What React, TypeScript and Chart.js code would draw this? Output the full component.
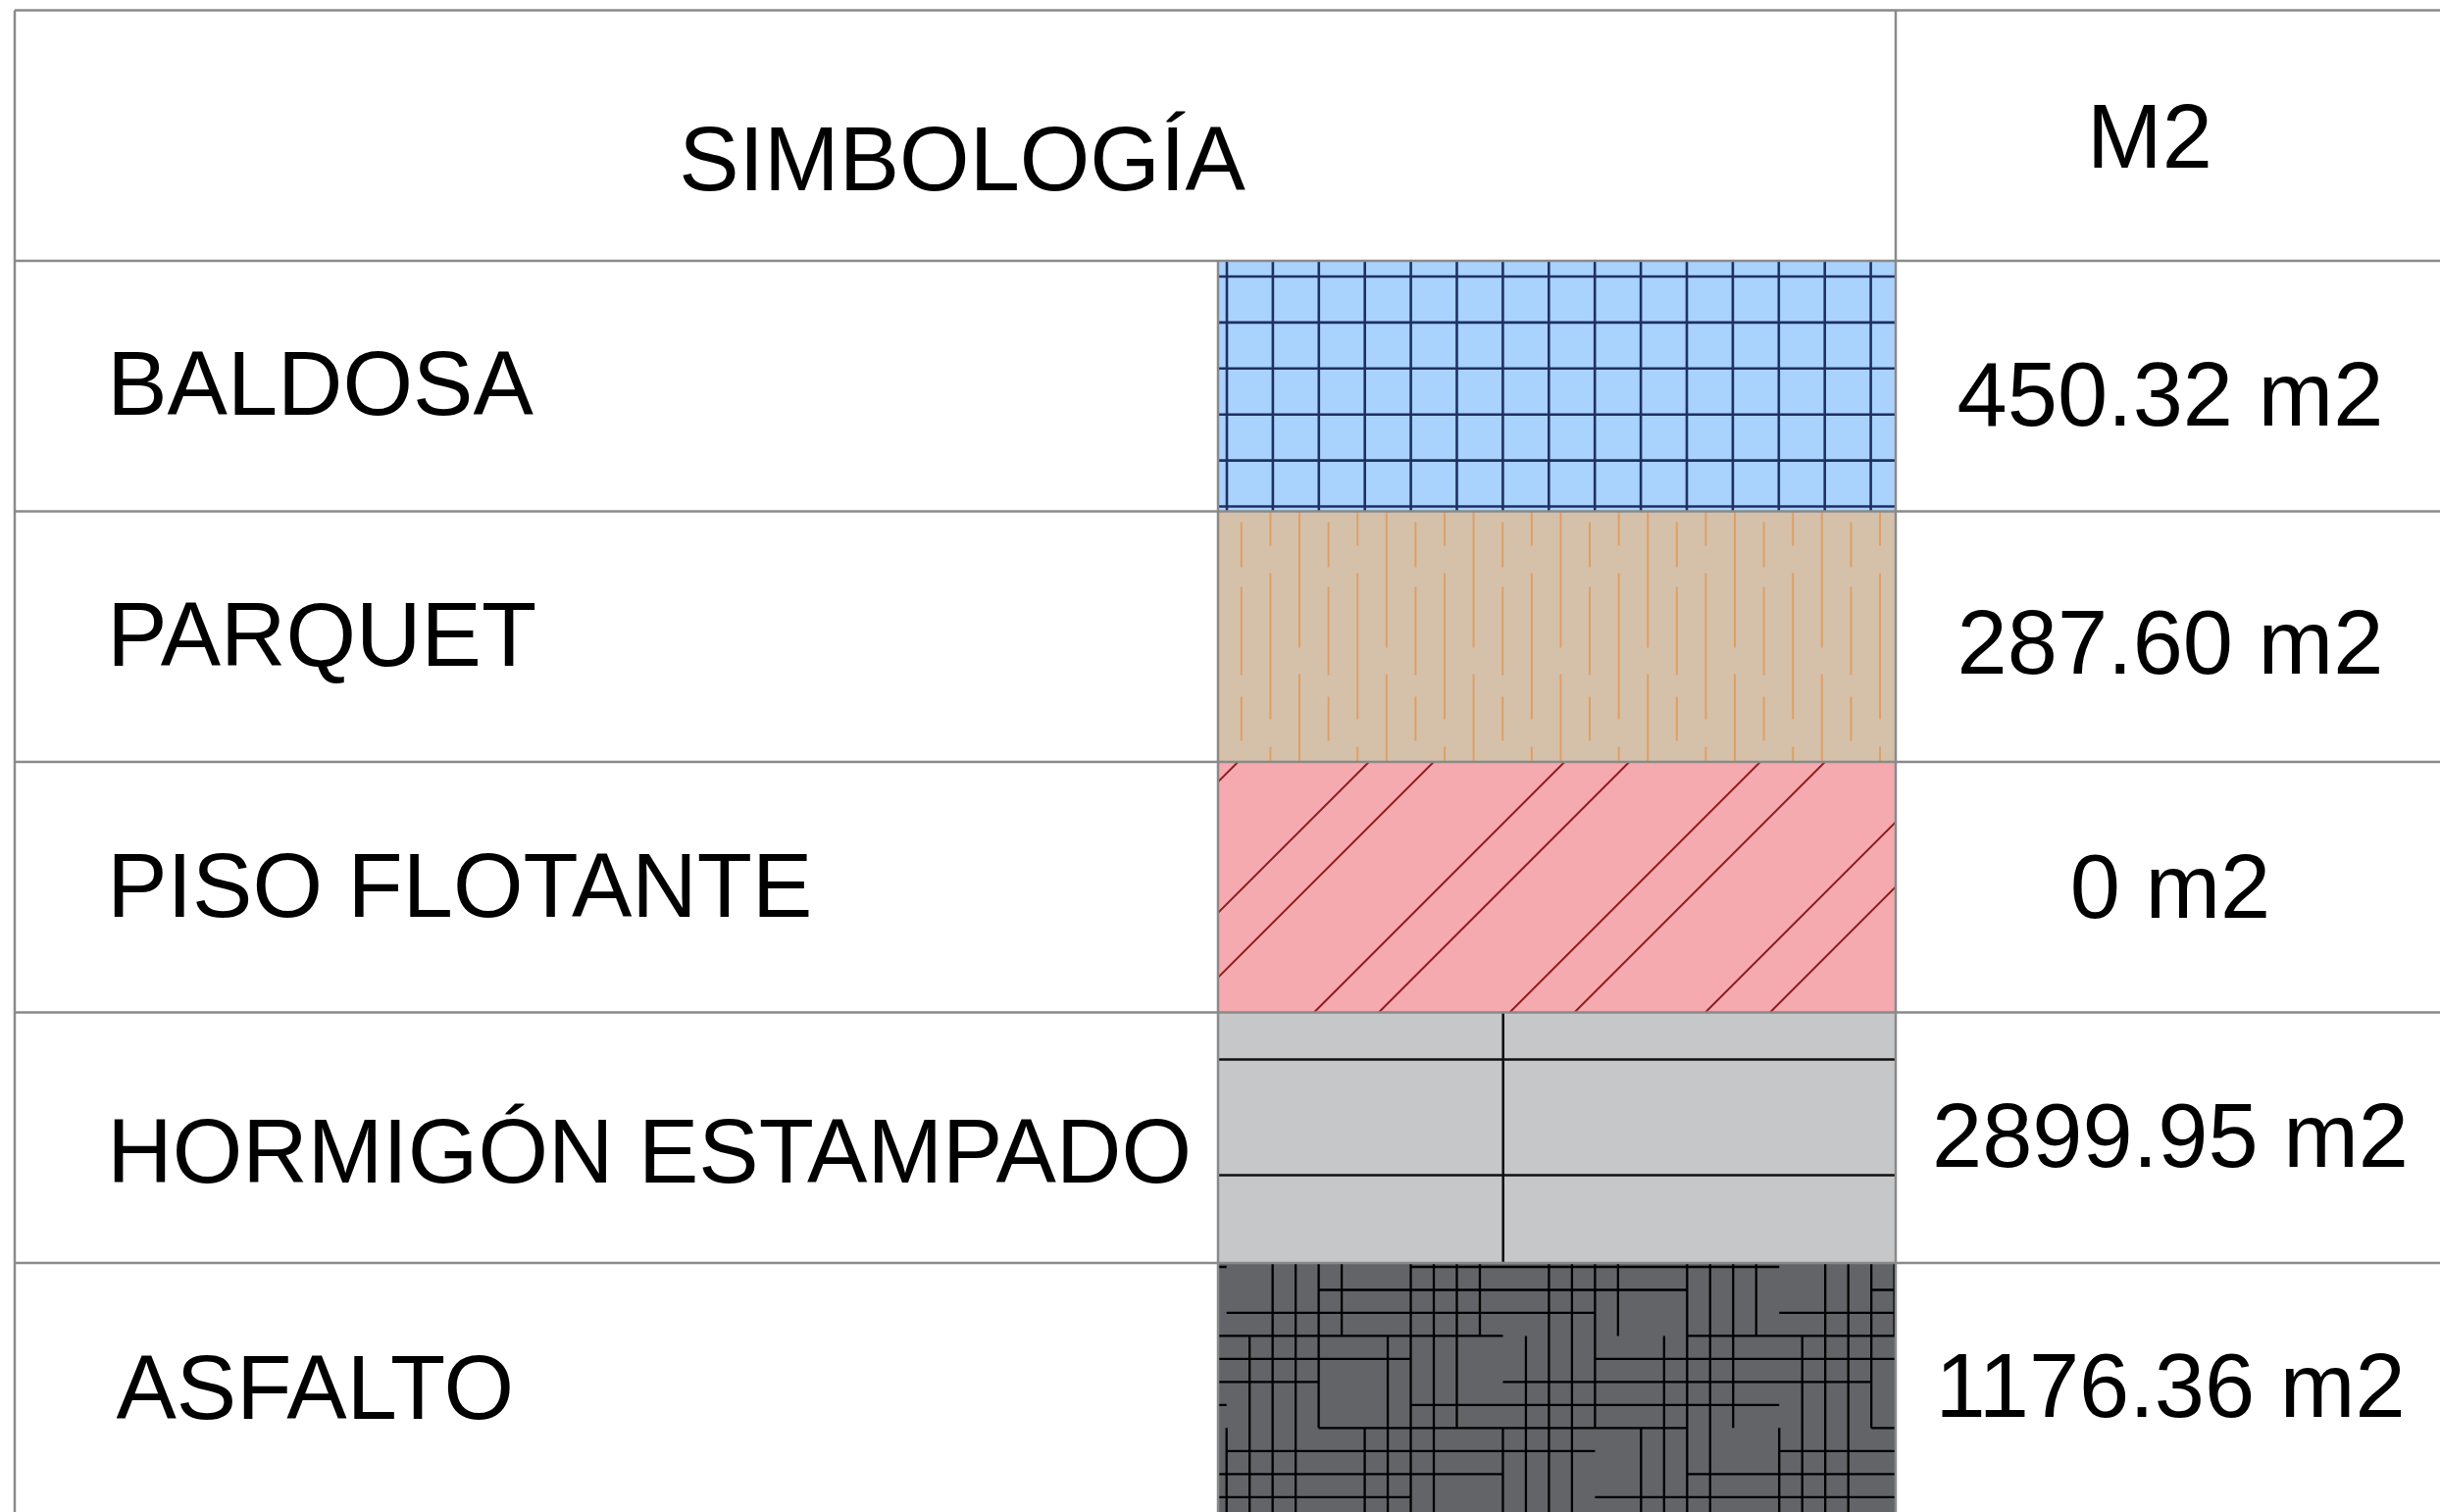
import React, { useEffect, useRef } from "react";
import { Chart, registerables } from "chart.js";

Chart.register(...registerables);

// ---------- data ----------
const HEADER_TITLE = "SIMBOLOGÍA";
const HEADER_UNIT = "M2";
const MATERIALS = ["BALDOSA", "PARQUET", "PISO FLOTANTE", "HORMIGÓN ESTAMPADO", "ASFALTO"];
const AREAS_M2 = [450.32, 287.6, 0, 2899.95, 1176.36];
const UNIT_SUFFIX = "m2";
const SWATCH_COLORS = ["#a9d2fc", "#d5c0aa", "#f5aaaf", "#c6c7c9", "#636467"];
const HATCH_KIND = ["grid", "parquet", "diagonal", "slab", "maze"];

// ---------- layout (style, not data) ----------
const CANVAS_W = 2500;
const CANVAS_H = 1560;
const TABLE_W = 2478; // x-scale units == px
const COL_SWATCH_START = 1227;
const COL_VALUE_START = 1918;
const LABEL_X = 94.2;
const LABEL_INDENT = [0, 0, 0, 0, 9.3];
const VALUE_CX = 2198;
const TITLE_CX = 966;
const UNIT_CX = 2177;
const TITLE_BASE = 183.5;
const UNIT_BASE = 160.5;
const LABEL_BASE = [157, 157.6, 158, 173, 158.5];
const VALUE_BASE = [167.5, 165, 158.5, 157, 156.5];
const FONT = '92px "Liberation Sans", Arial, sans-serif';
const BORDER = "#8a8a8a";

const PARQUET_DASHES = [
  [[11, 57], [77, 167], [189, 234]],
  [[-10, 35], [63, 212], [240, 266]],
  [[-10, 139], [166, 266]],
];

function fmt(v: number) {
  return (v === 0 ? "0" : v.toFixed(2)) + " " + UNIT_SUFFIX;
}

function drawHatch(ctx: CanvasRenderingContext2D, kind: string, L: number, T: number, W: number, H: number) {
  const R = L + W;
  const B = T + H;
  ctx.beginPath();
  if (kind === "grid") {
    ctx.strokeStyle = "#1f3063";
    ctx.lineWidth = 2.6;
    for (let x = L + 9; x < R + 2; x += 46.9) {
      ctx.moveTo(x, T);
      ctx.lineTo(x, B);
    }
    for (let y = T + 16; y < B + 2; y += 46.9) {
      ctx.moveTo(L, y);
      ctx.lineTo(R, y);
    }
  } else if (kind === "parquet") {
    ctx.strokeStyle = "#dea064";
    ctx.lineWidth = 2;
    for (let k = 0; ; k++) {
      const x = L + 23.8 + k * 29.6;
      if (x > R + 2) break;
      for (const [a, b] of PARQUET_DASHES[k % 3]) {
        ctx.moveTo(x, T + a);
        ctx.lineTo(x, T + b);
      }
    }
  } else if (kind === "diagonal") {
    ctx.strokeStyle = "#8f1d22";
    ctx.lineWidth = 2;
    for (let k = -2; k < 6; k++) {
      for (const off of [-101.6, -35.6]) {
        const xb = L + off + 199.5 * k;
        ctx.moveTo(xb, B);
        ctx.lineTo(xb + H + 40, B - H - 40);
      }
    }
  } else if (kind === "slab") {
    ctx.strokeStyle = "#111111";
    ctx.lineWidth = 2.6;
    for (const dy of [48, 166]) {
      ctx.moveTo(L, T + dy);
      ctx.lineTo(R, T + dy);
    }
    ctx.moveTo(L + 290.7, T);
    ctx.lineTo(L + 290.7, B);
  } else if (kind === "maze") {
    ctx.strokeStyle = "#000000";
    ctx.lineWidth = 2.3;
    const s = 23.48;
    const gx = (i: number) => L + 8.7 + s * i;
    const gy = (j: number) => T + 4 + s * j;
    const mod = (a: number, n: number) => ((a % n) + n) % n;
    // horizontal runs: length 16, gap 8, shifting by 4 each row
    for (let j = -1; j <= 12; j++) {
      const s0 = mod(8 - 4 * j, 24) - 48;
      for (let st = s0; st < 40; st += 24) {
        ctx.moveTo(gx(st), gy(j));
        ctx.lineTo(gx(st + 16), gy(j));
      }
    }
    // vertical runs
    for (let i = -1; i <= 31; i++) {
      const t0 = mod(7 - 4 * i, 24) - 48;
      for (let st = t0; st < 20; st += 24) {
        ctx.moveTo(gx(i), gy(st));
        ctx.lineTo(gx(i), gy(st + 16));
      }
    }
  }
  ctx.stroke();
}

const tablePlugin = {
  id: "tableDecor",
  afterDatasetsDraw(chart: any) {
    const { ctx } = chart;
    const xs = chart.scales.x;
    const ys = chart.scales.y;
    const meta = chart.getDatasetMeta(0);
    const rowH = ys.getPixelForValue(1) - ys.getPixelForValue(0);
    const rowTop = (k: number) => ys.getPixelForValue(k) - rowH / 2;
    const nRows = MATERIALS.length + 1;

    // hatches inside each swatch bar
    meta.data.forEach((el: any, i: number) => {
      if (i === 0) return;
      const p = el.getProps(["x", "y", "base", "height"], true);
      const L = Math.min(p.x, p.base);
      const R = Math.max(p.x, p.base);
      const T = p.y - p.height / 2;
      const H = p.height;
      ctx.save();
      ctx.beginPath();
      ctx.rect(L, T, R - L, H);
      ctx.clip();
      drawHatch(ctx, HATCH_KIND[i - 1], L, T, R - L, H);
      ctx.restore();
    });

    // table borders
    const x0 = xs.getPixelForValue(0);
    const xSw = xs.getPixelForValue(COL_SWATCH_START);
    const xVal = xs.getPixelForValue(COL_VALUE_START);
    const xEnd = xs.getPixelForValue(TABLE_W);
    const yTop = rowTop(0);
    const yBot = rowTop(nRows);
    ctx.save();
    ctx.strokeStyle = BORDER;
    ctx.lineWidth = 2.5;
    ctx.beginPath();
    for (let k = 0; k <= nRows; k++) {
      const yy = rowTop(k);
      ctx.moveTo(x0, yy);
      ctx.lineTo(xEnd, yy);
    }
    ctx.moveTo(x0, yTop);
    ctx.lineTo(x0, yBot);
    ctx.moveTo(xVal, yTop);
    ctx.lineTo(xVal, yBot);
    ctx.moveTo(xEnd, yTop);
    ctx.lineTo(xEnd, yBot);
    ctx.moveTo(xSw, rowTop(1));
    ctx.lineTo(xSw, yBot);
    ctx.stroke();

    // texts
    ctx.fillStyle = "#000000";
    ctx.font = FONT;
    ctx.textBaseline = "alphabetic";
    ctx.textAlign = "center";
    ctx.fillText(HEADER_TITLE, xs.getPixelForValue(TITLE_CX), rowTop(0) + TITLE_BASE);
    ctx.fillText(HEADER_UNIT, xs.getPixelForValue(UNIT_CX), rowTop(0) + UNIT_BASE);
    MATERIALS.forEach((name, i) => {
      const top = rowTop(i + 1);
      ctx.textAlign = "left";
      ctx.fillText(name, xs.getPixelForValue(LABEL_X + LABEL_INDENT[i]), top + LABEL_BASE[i]);
      ctx.textAlign = "center";
      ctx.fillText(fmt(AREAS_M2[i]), xs.getPixelForValue(VALUE_CX), top + VALUE_BASE[i]);
    });
    ctx.restore();
  },
};

export default function App() {
  const ref = useRef<HTMLCanvasElement | null>(null);

  useEffect(() => {
    const canvas = ref.current;
    if (!canvas) return;
    const labels = [HEADER_TITLE, ...MATERIALS];
    const swatchData: any[] = [null, ...MATERIALS.map(() => [COL_SWATCH_START, COL_VALUE_START])];
    const chart = new Chart(canvas, {
      type: "bar",
      data: {
        labels,
        datasets: [
          {
            label: "Simbología",
            data: swatchData,
            backgroundColor: ["rgba(0,0,0,0)", ...SWATCH_COLORS],
            borderWidth: 0,
            categoryPercentage: 1,
            barPercentage: 1,
            inflateAmount: 0,
          } as any,
        ],
      },
      options: {
        indexAxis: "y",
        responsive: false,
        maintainAspectRatio: false,
        devicePixelRatio: 1,
        animation: false,
        events: [],
        layout: { padding: { left: 15, top: 10.5, right: CANVAS_W - 15 - TABLE_W, bottom: CANVAS_H - 10.5 - 1533 } },
        plugins: {
          legend: { display: false },
          tooltip: { enabled: false },
          title: { display: false },
        },
        scales: {
          x: { type: "linear", display: false, min: 0, max: TABLE_W },
          y: { type: "category", display: false, offset: true },
        },
      },
      plugins: [tablePlugin],
    } as any);
    return () => chart.destroy();
  }, []);

  return (
    <div
      style={{
        position: "fixed",
        left: 0,
        top: 0,
        width: 2488,
        height: 1542,
        overflow: "hidden",
        background: "#ffffff",
      }}
    >
      <canvas
        ref={ref}
        width={CANVAS_W}
        height={CANVAS_H}
        style={{ display: "block", width: CANVAS_W, height: CANVAS_H }}
      />
    </div>
  );
}
